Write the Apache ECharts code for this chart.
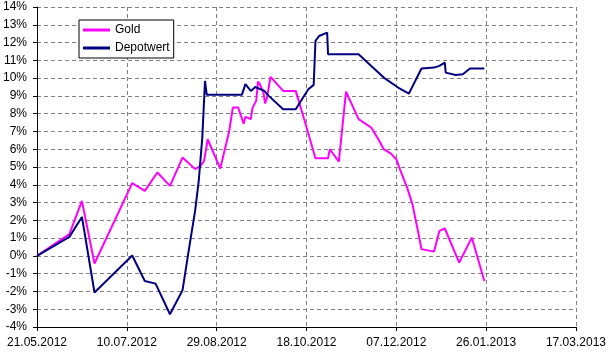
<!DOCTYPE html>
<html>
<head>
<meta charset="utf-8">
<script src="https://cdn.jsdelivr.net/npm/echarts@6/dist/echarts.min.js"></script>
<style>html,body{margin:0;padding:0;background:#fff}#c{width:609px;height:352px}</style>
</head>
<body>
<div id="c"></div>
<script>
// x values: days after 21.05.2012
const baseDate = [2012, 4, 21];
const goldDays = [0,18,25,32,53,60,67,74,81,88,91,93,95,102,107,109,112,115,116,119,120,122,123,124,126,127,128,130,137,144,149,155,162,163,168,172,179,186,190,193,197,200,202,206,209,212,214,221,224,227,235,242,249];
const goldVals = [0,1.22,3.09,-0.43,4.09,3.66,4.69,3.94,5.53,4.88,5.06,5.34,6.56,4.91,7.03,8.34,8.34,7.44,7.82,7.69,8.34,8.72,9.8,9.66,9.19,8.57,8.9,10.07,9.28,9.28,7.59,5.49,5.49,6.0,5.3,9.24,7.69,7.22,6.56,6.0,5.75,5.44,4.88,3.84,2.9,1.41,0.38,0.24,1.41,1.54,-0.38,1.03,-1.41];
const depotDays = [0,18,25,32,53,60,66,74,81,85,88,90,92,93.5,94.5,114,116,119,121.5,126.5,129,137,144,151,154,155,157,161.5,162,179,185,193,201,207,214,221,224,227,227.5,233,237,241,249];
const depotVals = [0,1.07,2.19,-2.06,0.02,-1.41,-1.56,-3.28,-1.93,0.66,2.53,4.2,6.65,9.84,9.06,9.06,9.66,9.28,9.5,9.28,9.0,8.25,8.25,9.37,9.62,12.09,12.37,12.56,11.34,11.34,10.78,10.03,9.47,9.13,10.54,10.59,10.69,10.87,10.31,10.18,10.22,10.54,10.54];
const xMin = 0, xMax = 300, xStep = 50;
const yMin = -4, yMax = 14, yStep = 1;
const seriesNames = ['Gold', 'Depotwert'];

function pad(n){return (n<10?'0':'')+n;}
function dayLabel(d){
  const t = new Date(Date.UTC(baseDate[0], baseDate[1], baseDate[2]) + d*86400000);
  return pad(t.getUTCDate())+'.'+pad(t.getUTCMonth()+1)+'.'+t.getUTCFullYear();
}
const zip = (a,b)=>a.map((v,i)=>[v,b[i]]);
const font = 'Arial, "Liberation Sans", sans-serif';
const chart = echarts.init(document.getElementById('c'), null, {renderer:'canvas'});
chart.setOption({
  animation:false,
  backgroundColor:'#fff',
  grid:{left:37,right:32,top:7,bottom:25,containLabel:false},
  legend:{
    orient:'vertical', left:79, top:20,
    padding:[4,4,4,4], itemGap:6,
    borderColor:'#000', borderWidth:1, backgroundColor:'#fff',
    icon:'rect', itemWidth:27, itemHeight:3,
    textStyle:{fontFamily:font,fontSize:12,color:'#000'},
    data:seriesNames
  },
  xAxis:{
    type:'value', min:xMin, max:xMax, interval:xStep,
    axisLine:{show:true,onZero:false,lineStyle:{color:'#000',width:1}},
    axisTick:{show:true,length:4,lineStyle:{color:'#000'}},
    axisLabel:{margin:10,fontFamily:font,fontSize:12,color:'#000',formatter:v=>dayLabel(v)},
    splitLine:{show:true,lineStyle:{color:'#808080',type:[4,3],width:1}}
  },
  yAxis:{
    type:'value', min:yMin, max:yMax, interval:yStep,
    axisLine:{show:true,onZero:false,lineStyle:{color:'#000',width:1}},
    axisTick:{show:true,length:4,lineStyle:{color:'#000'}},
    axisLabel:{margin:10,fontFamily:font,fontSize:12,color:'#000',formatter:v=>v+'%'},
    splitLine:{show:true,lineStyle:{color:'#808080',type:[4,3],width:1}}
  },
  series:[
    {name:seriesNames[0],type:'line',data:zip(goldDays,goldVals),showSymbol:false,symbol:'none',
     lineStyle:{color:'#FF00FF',width:2},itemStyle:{color:'#FF00FF'},z:2},
    {name:seriesNames[1],type:'line',data:zip(depotDays,depotVals),showSymbol:false,symbol:'none',
     lineStyle:{color:'#000080',width:2},itemStyle:{color:'#000080'},z:3}
  ]
});
</script>
</body>
</html>
